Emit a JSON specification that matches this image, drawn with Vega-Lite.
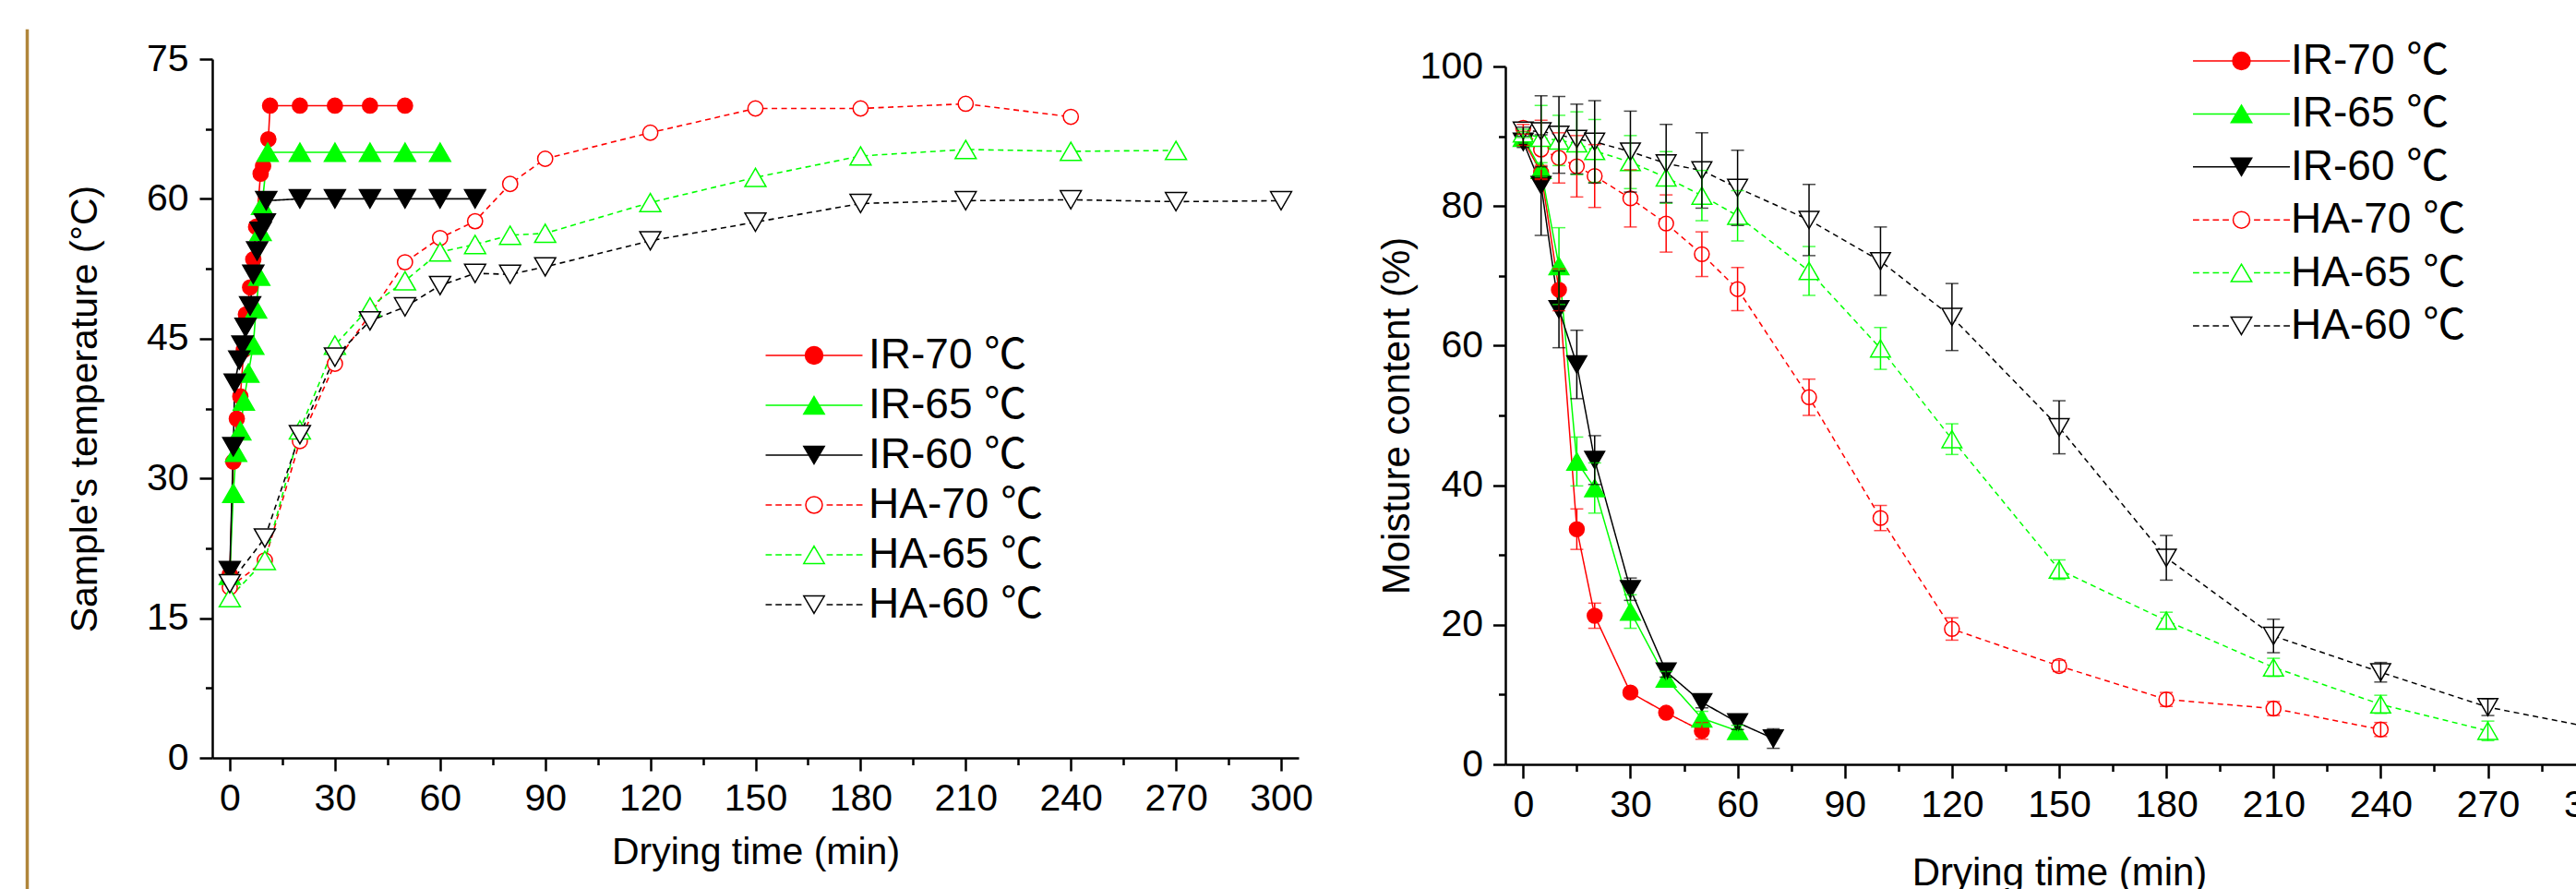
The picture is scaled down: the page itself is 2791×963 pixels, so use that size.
{
  "$schema": "https://vega.github.io/schema/vega-lite/v6.json",
  "background": "white",
  "padding": {"left": 27, "top": 31, "right": 0, "bottom": 0},
  "spacing": 39,
  "config": {"font": "Liberation Sans", "view": {"stroke": null}},
  "datasets": {
    "temp": [
      {"s": "IR-70 ℃", "t": 0, "v": 19.7}, {"s": "IR-70 ℃", "t": 1, "v": 31.8}, {"s": "IR-70 ℃", "t": 2, "v": 36.4}, {"s": "IR-70 ℃", "t": 3, "v": 38.8}, {"s": "IR-70 ℃", "t": 4, "v": 43.8}, {"s": "IR-70 ℃", "t": 4.6, "v": 47.6}, {"s": "IR-70 ℃", "t": 5.8, "v": 50.5}, {"s": "IR-70 ℃", "t": 6.7, "v": 53.5}, {"s": "IR-70 ℃", "t": 7.5, "v": 57.0}, {"s": "IR-70 ℃", "t": 8.8, "v": 62.7}, {"s": "IR-70 ℃", "t": 9.5, "v": 63.5}, {"s": "IR-70 ℃", "t": 11, "v": 66.4}, {"s": "IR-70 ℃", "t": 11.5, "v": 70}, {"s": "IR-70 ℃", "t": 20, "v": 70}, {"s": "IR-70 ℃", "t": 30, "v": 70}, {"s": "IR-70 ℃", "t": 40, "v": 70}, {"s": "IR-70 ℃", "t": 50, "v": 70},
      {"s": "IR-65 ℃", "t": 0, "v": 19.6}, {"s": "IR-65 ℃", "t": 1, "v": 28.4}, {"s": "IR-65 ℃", "t": 1.8, "v": 32.8}, {"s": "IR-65 ℃", "t": 3, "v": 35.1}, {"s": "IR-65 ℃", "t": 4, "v": 38.3}, {"s": "IR-65 ℃", "t": 5.3, "v": 41.3}, {"s": "IR-65 ℃", "t": 6.7, "v": 44.3}, {"s": "IR-65 ℃", "t": 7.5, "v": 48.2}, {"s": "IR-65 ℃", "t": 8.4, "v": 51.7}, {"s": "IR-65 ℃", "t": 8.8, "v": 56.5}, {"s": "IR-65 ℃", "t": 9.2, "v": 59.3}, {"s": "IR-65 ℃", "t": 10.8, "v": 65}, {"s": "IR-65 ℃", "t": 20, "v": 65}, {"s": "IR-65 ℃", "t": 30, "v": 65}, {"s": "IR-65 ℃", "t": 40, "v": 65}, {"s": "IR-65 ℃", "t": 50, "v": 65}, {"s": "IR-65 ℃", "t": 60, "v": 65},
      {"s": "IR-60 ℃", "t": 0, "v": 20.1}, {"s": "IR-60 ℃", "t": 1, "v": 33.4}, {"s": "IR-60 ℃", "t": 1.4, "v": 40.2}, {"s": "IR-60 ℃", "t": 2.7, "v": 42.7}, {"s": "IR-60 ℃", "t": 3.6, "v": 44.3}, {"s": "IR-60 ℃", "t": 4.5, "v": 46.2}, {"s": "IR-60 ℃", "t": 5.8, "v": 48.5}, {"s": "IR-60 ℃", "t": 6.7, "v": 51.9}, {"s": "IR-60 ℃", "t": 7.8, "v": 54.4}, {"s": "IR-60 ℃", "t": 8.8, "v": 56.5}, {"s": "IR-60 ℃", "t": 10, "v": 57.4}, {"s": "IR-60 ℃", "t": 10.4, "v": 59.8}, {"s": "IR-60 ℃", "t": 20, "v": 60}, {"s": "IR-60 ℃", "t": 30, "v": 60}, {"s": "IR-60 ℃", "t": 40, "v": 60}, {"s": "IR-60 ℃", "t": 50, "v": 60}, {"s": "IR-60 ℃", "t": 60, "v": 60}, {"s": "IR-60 ℃", "t": 70, "v": 60},
      {"s": "HA-70 ℃", "t": 0, "v": 18.3}, {"s": "HA-70 ℃", "t": 10, "v": 21.2}, {"s": "HA-70 ℃", "t": 20, "v": 34.0}, {"s": "HA-70 ℃", "t": 30, "v": 42.3}, {"s": "HA-70 ℃", "t": 40, "v": 47.6}, {"s": "HA-70 ℃", "t": 50, "v": 53.2}, {"s": "HA-70 ℃", "t": 60, "v": 55.8}, {"s": "HA-70 ℃", "t": 70, "v": 57.6}, {"s": "HA-70 ℃", "t": 80, "v": 61.6}, {"s": "HA-70 ℃", "t": 90, "v": 64.3}, {"s": "HA-70 ℃", "t": 120, "v": 67.1}, {"s": "HA-70 ℃", "t": 150, "v": 69.7}, {"s": "HA-70 ℃", "t": 180, "v": 69.7}, {"s": "HA-70 ℃", "t": 210, "v": 70.2}, {"s": "HA-70 ℃", "t": 240, "v": 68.8},
      {"s": "HA-65 ℃", "t": 0, "v": 17.2}, {"s": "HA-65 ℃", "t": 10, "v": 21.2}, {"s": "HA-65 ℃", "t": 20, "v": 35.2}, {"s": "HA-65 ℃", "t": 30, "v": 44.3}, {"s": "HA-65 ℃", "t": 40, "v": 48.4}, {"s": "HA-65 ℃", "t": 50, "v": 51.2}, {"s": "HA-65 ℃", "t": 60, "v": 54.3}, {"s": "HA-65 ℃", "t": 70, "v": 55.1}, {"s": "HA-65 ℃", "t": 80, "v": 56.1}, {"s": "HA-65 ℃", "t": 90, "v": 56.3}, {"s": "HA-65 ℃", "t": 120, "v": 59.6}, {"s": "HA-65 ℃", "t": 150, "v": 62.3}, {"s": "HA-65 ℃", "t": 180, "v": 64.6}, {"s": "HA-65 ℃", "t": 210, "v": 65.3}, {"s": "HA-65 ℃", "t": 240, "v": 65.1}, {"s": "HA-65 ℃", "t": 270, "v": 65.2},
      {"s": "HA-60 ℃", "t": 0, "v": 18.7}, {"s": "HA-60 ℃", "t": 10, "v": 23.6}, {"s": "HA-60 ℃", "t": 20, "v": 34.7}, {"s": "HA-60 ℃", "t": 30, "v": 43.0}, {"s": "HA-60 ℃", "t": 40, "v": 46.9}, {"s": "HA-60 ℃", "t": 50, "v": 48.4}, {"s": "HA-60 ℃", "t": 60, "v": 50.7}, {"s": "HA-60 ℃", "t": 70, "v": 52.0}, {"s": "HA-60 ℃", "t": 80, "v": 51.9}, {"s": "HA-60 ℃", "t": 90, "v": 52.7}, {"s": "HA-60 ℃", "t": 120, "v": 55.5}, {"s": "HA-60 ℃", "t": 150, "v": 57.5}, {"s": "HA-60 ℃", "t": 180, "v": 59.5}, {"s": "HA-60 ℃", "t": 210, "v": 59.8}, {"s": "HA-60 ℃", "t": 240, "v": 59.9}, {"s": "HA-60 ℃", "t": 270, "v": 59.7}, {"s": "HA-60 ℃", "t": 300, "v": 59.8}
    ],
    "moist": [
      {"s": "IR-70 ℃", "t": 0, "v": 89.5, "e": 0.8}, {"s": "IR-70 ℃", "t": 5, "v": 84.8, "e": 1.0}, {"s": "IR-70 ℃", "t": 10, "v": 68.0, "e": 3.0}, {"s": "IR-70 ℃", "t": 15, "v": 33.7, "e": 2.9}, {"s": "IR-70 ℃", "t": 20, "v": 21.3, "e": 1.8}, {"s": "IR-70 ℃", "t": 30, "v": 10.3, "e": 0.5}, {"s": "IR-70 ℃", "t": 40, "v": 7.4, "e": 0.5}, {"s": "IR-70 ℃", "t": 50, "v": 4.8, "e": 1.2},
      {"s": "IR-65 ℃", "t": 0, "v": 89.8, "e": 0.8}, {"s": "IR-65 ℃", "t": 5, "v": 85.2, "e": 1.0}, {"s": "IR-65 ℃", "t": 10, "v": 71.4, "e": 5.5}, {"s": "IR-65 ℃", "t": 15, "v": 43.4, "e": 3.5}, {"s": "IR-65 ℃", "t": 20, "v": 39.6, "e": 3.6}, {"s": "IR-65 ℃", "t": 30, "v": 21.9, "e": 2.4}, {"s": "IR-65 ℃", "t": 40, "v": 12.3, "e": 1.0}, {"s": "IR-65 ℃", "t": 50, "v": 6.6, "e": 1.0}, {"s": "IR-65 ℃", "t": 60, "v": 4.8, "e": 0.8},
      {"s": "IR-60 ℃", "t": 0, "v": 89.2, "e": 0.8}, {"s": "IR-60 ℃", "t": 5, "v": 83.0, "e": 7.2}, {"s": "IR-60 ℃", "t": 10, "v": 65.2, "e": 5.5}, {"s": "IR-60 ℃", "t": 15, "v": 57.3, "e": 4.9}, {"s": "IR-60 ℃", "t": 20, "v": 43.6, "e": 3.5}, {"s": "IR-60 ℃", "t": 30, "v": 25.1, "e": 1.6}, {"s": "IR-60 ℃", "t": 40, "v": 13.3, "e": 0.8}, {"s": "IR-60 ℃", "t": 50, "v": 8.9, "e": 0.8}, {"s": "IR-60 ℃", "t": 60, "v": 6.0, "e": 1.0}, {"s": "IR-60 ℃", "t": 70, "v": 3.7, "e": 1.4},
      {"s": "HA-70 ℃", "t": 0, "v": 91.2, "e": 0.5}, {"s": "HA-70 ℃", "t": 5, "v": 88.1, "e": 4.2}, {"s": "HA-70 ℃", "t": 10, "v": 86.9, "e": 3.6}, {"s": "HA-70 ℃", "t": 15, "v": 85.7, "e": 4.4}, {"s": "HA-70 ℃", "t": 20, "v": 84.3, "e": 4.5}, {"s": "HA-70 ℃", "t": 30, "v": 81.1, "e": 4.1}, {"s": "HA-70 ℃", "t": 40, "v": 77.5, "e": 4.1}, {"s": "HA-70 ℃", "t": 50, "v": 73.1, "e": 3.2}, {"s": "HA-70 ℃", "t": 60, "v": 68.1, "e": 3.1}, {"s": "HA-70 ℃", "t": 80, "v": 52.6, "e": 2.6}, {"s": "HA-70 ℃", "t": 100, "v": 35.3, "e": 1.8}, {"s": "HA-70 ℃", "t": 120, "v": 19.4, "e": 1.6}, {"s": "HA-70 ℃", "t": 150, "v": 14.1, "e": 0.8}, {"s": "HA-70 ℃", "t": 180, "v": 9.3, "e": 1.0}, {"s": "HA-70 ℃", "t": 210, "v": 8.0, "e": 1.0}, {"s": "HA-70 ℃", "t": 240, "v": 5.0, "e": 1.0},
      {"s": "HA-65 ℃", "t": 0, "v": 90.4, "e": 0.6}, {"s": "HA-65 ℃", "t": 5, "v": 89.8, "e": 4.6}, {"s": "HA-65 ℃", "t": 10, "v": 89.4, "e": 3.6}, {"s": "HA-65 ℃", "t": 15, "v": 89.0, "e": 4.5}, {"s": "HA-65 ℃", "t": 20, "v": 87.9, "e": 4.5}, {"s": "HA-65 ℃", "t": 30, "v": 86.3, "e": 3.8}, {"s": "HA-65 ℃", "t": 40, "v": 84.1, "e": 3.7}, {"s": "HA-65 ℃", "t": 50, "v": 81.5, "e": 3.6}, {"s": "HA-65 ℃", "t": 60, "v": 78.6, "e": 3.6}, {"s": "HA-65 ℃", "t": 80, "v": 70.7, "e": 3.5}, {"s": "HA-65 ℃", "t": 100, "v": 59.6, "e": 3.0}, {"s": "HA-65 ℃", "t": 120, "v": 46.6, "e": 2.2}, {"s": "HA-65 ℃", "t": 150, "v": 27.9, "e": 1.4}, {"s": "HA-65 ℃", "t": 180, "v": 20.6, "e": 1.2}, {"s": "HA-65 ℃", "t": 210, "v": 13.9, "e": 1.3}, {"s": "HA-65 ℃", "t": 240, "v": 8.6, "e": 1.3}, {"s": "HA-65 ℃", "t": 270, "v": 4.8, "e": 1.4},
      {"s": "HA-60 ℃", "t": 0, "v": 90.8, "e": 0.5}, {"s": "HA-60 ℃", "t": 5, "v": 90.7, "e": 5.1}, {"s": "HA-60 ℃", "t": 10, "v": 90.2, "e": 5.5}, {"s": "HA-60 ℃", "t": 15, "v": 89.6, "e": 5.0}, {"s": "HA-60 ℃", "t": 20, "v": 89.2, "e": 5.9}, {"s": "HA-60 ℃", "t": 30, "v": 87.8, "e": 5.8}, {"s": "HA-60 ℃", "t": 40, "v": 86.1, "e": 5.6}, {"s": "HA-60 ℃", "t": 50, "v": 85.1, "e": 5.4}, {"s": "HA-60 ℃", "t": 60, "v": 82.6, "e": 5.4}, {"s": "HA-60 ℃", "t": 80, "v": 78.0, "e": 5.1}, {"s": "HA-60 ℃", "t": 100, "v": 72.1, "e": 4.9}, {"s": "HA-60 ℃", "t": 120, "v": 64.1, "e": 4.8}, {"s": "HA-60 ℃", "t": 150, "v": 48.3, "e": 3.8}, {"s": "HA-60 ℃", "t": 180, "v": 29.6, "e": 3.2}, {"s": "HA-60 ℃", "t": 210, "v": 18.4, "e": 2.4}, {"s": "HA-60 ℃", "t": 240, "v": 13.2, "e": 1.4}, {"s": "HA-60 ℃", "t": 270, "v": 8.2, "e": 1.2}, {"s": "HA-60 ℃", "t": 300, "v": 5.2, "e": 0.8}
    ]
  },
  "hconcat": [
    {
      "width": 1,
      "height": 932,
      "data": {"values": []},
      "mark": {"type": "point"},
      "view": {"stroke": "#B0853A", "strokeWidth": 2.5, "fill": null}
    },
    {
      "spacing": 69,
      "hconcat": [
        {"spacing": 0, "vconcat": [
        {"width": 1, "height": 10, "data": {"values": []}, "mark": {"type": "point"}},
        {
          "width": 1177,
          "height": 757,
          "data": {"name": "temp"},
          "resolve": {
            "scale": {"shape": "independent", "fill": "independent", "stroke": "independent", "strokeDash": "independent"},
            "axis": {"x": "independent", "y": "independent"}
          },
          "layer": [
            {
              "mark": {"type": "line", "strokeWidth": 1.6},
              "encoding": {
                "x": {"field": "t", "type": "quantitative", "scale": {"domain": [-5, 305], "nice": false, "zero": false},
                  "axis": {"orient": "bottom", "values": [0, 30, 60, 90, 120, 150, 180, 210, 240, 270, 300], "title": "Drying time (min)", "grid": false, "domainColor": "#000", "domainWidth": 2.5, "tickColor": "#000", "tickWidth": 2.5, "tickSize": 14, "labelFont": "Liberation Sans", "labelFontSize": 41, "labelColor": "#000", "labelPadding": 10.5, "labelFlush": false, "labelOverlap": false, "titleFont": "Liberation Sans", "titleFontSize": 41, "titleFontWeight": "normal", "titleColor": "#000", "titlePadding": 18}},
                "y": {"field": "v", "type": "quantitative", "scale": {"domain": [0, 75], "nice": false, "zero": false},
                  "axis": {"orient": "left", "values": [0, 15, 30, 45, 60, 75], "title": "Sample's temperature (°C)", "grid": false, "domainColor": "#000", "domainWidth": 2.5, "tickColor": "#000", "tickWidth": 2.5, "tickSize": 14, "labelFont": "Liberation Sans", "labelFontSize": 41, "labelColor": "#000", "labelPadding": 12, "labelFlush": false, "labelOverlap": false, "titleFont": "Liberation Sans", "titleFontSize": 41, "titleFontWeight": "normal", "titleColor": "#000", "titlePadding": 45}},
                "stroke": {"field": "s", "type": "nominal", "legend": null, "scale": {"domain": ["IR-70 ℃", "IR-65 ℃", "IR-60 ℃", "HA-70 ℃", "HA-65 ℃", "HA-60 ℃"], "range": ["#ff0000", "#00ff00", "#000000", "#ff0000", "#00ff00", "#000000"]}},
                "strokeDash": {"field": "s", "type": "nominal", "legend": null, "scale": {"domain": ["IR-70 ℃", "IR-65 ℃", "IR-60 ℃", "HA-70 ℃", "HA-65 ℃", "HA-60 ℃"], "range": [[1, 0], [1, 0], [1, 0], [6, 4.5], [6, 4.5], [6, 4.5]]}}
              }
            },
            {
              "transform": [{"filter": {"field": "s", "oneOf": ["IR-70 ℃", "HA-70 ℃"]}}],
              "mark": {"type": "point", "shape": "circle", "size": 265, "strokeWidth": 1.5, "opacity": 1},
              "encoding": {
                "x": {"field": "t", "type": "quantitative", "scale": {"domain": [-5, 305], "nice": false, "zero": false}, "axis": null},
                "y": {"field": "v", "type": "quantitative", "scale": {"domain": [0, 75], "nice": false, "zero": false}, "axis": null},
                "fill": {"field": "s", "type": "nominal", "legend": null, "scale": {"domain": ["IR-70 ℃", "IR-65 ℃", "IR-60 ℃", "HA-70 ℃", "HA-65 ℃", "HA-60 ℃"], "range": ["#ff0000", "#00ff00", "#000000", "#ffffff", "#ffffff", "#ffffff"]}},
                "stroke": {"field": "s", "type": "nominal", "legend": null, "scale": {"domain": ["IR-70 ℃", "IR-65 ℃", "IR-60 ℃", "HA-70 ℃", "HA-65 ℃", "HA-60 ℃"], "range": ["#ff0000", "#00ff00", "#000000", "#ff0000", "#00ff00", "#000000"]}}
              }
            },
            {
              "transform": [{"filter": {"field": "s", "oneOf": ["IR-65 ℃", "IR-60 ℃", "HA-65 ℃", "HA-60 ℃"]}}],
              "mark": {"type": "point", "size": 520, "strokeWidth": 1.5, "opacity": 1},
              "encoding": {
                "x": {"field": "t", "type": "quantitative", "scale": {"domain": [-5, 305], "nice": false, "zero": false}, "axis": null},
                "y": {"field": "v", "type": "quantitative", "scale": {"domain": [0, 75], "nice": false, "zero": false}, "axis": null},
                "shape": {"field": "s", "type": "nominal", "legend": null, "scale": {"domain": ["IR-65 ℃", "IR-60 ℃", "HA-65 ℃", "HA-60 ℃"], "range": ["triangle-up", "triangle-down", "triangle-up", "triangle-down"]}},
                "fill": {"field": "s", "type": "nominal", "legend": null, "scale": {"domain": ["IR-70 ℃", "IR-65 ℃", "IR-60 ℃", "HA-70 ℃", "HA-65 ℃", "HA-60 ℃"], "range": ["#ff0000", "#00ff00", "#000000", "#ffffff", "#ffffff", "#ffffff"]}},
                "stroke": {"field": "s", "type": "nominal", "legend": null, "scale": {"domain": ["IR-70 ℃", "IR-65 ℃", "IR-60 ℃", "HA-70 ℃", "HA-65 ℃", "HA-60 ℃"], "range": ["#ff0000", "#00ff00", "#000000", "#ff0000", "#00ff00", "#000000"]}}
              }
            },
            {
              "transform": [{"filter": "false"}],
              "mark": {"type": "point", "strokeWidth": 1.5},
              "encoding": {
                "x": {"field": "t", "type": "quantitative", "scale": {"domain": [-5, 305], "nice": false, "zero": false},
                  "axis": {"orient": "bottom", "values": [15, 45, 75, 105, 135, 165, 195, 225, 255, 285], "title": null, "labels": false, "domain": false, "grid": false, "tickColor": "#000", "tickWidth": 2.5, "tickSize": 7.5}},
                "y": {"field": "v", "type": "quantitative", "scale": {"domain": [0, 75], "nice": false, "zero": false},
                  "axis": {"orient": "left", "values": [7.5, 22.5, 37.5, 52.5, 67.5], "title": null, "labels": false, "domain": false, "grid": false, "tickColor": "#000", "tickWidth": 2.5, "tickSize": 7.5}},
                "shape": {"field": "s", "type": "nominal",
                  "scale": {"domain": ["IR-70 ℃", "IR-65 ℃", "IR-60 ℃", "HA-70 ℃", "HA-65 ℃", "HA-60 ℃"], "range": [
                    "M-5.83,0H5.83M-1.05,0A1.05,1.05 0 1 0 1.05,0A1.05,1.05 0 1 0 -1.05,0Z",
                    "M-5.83,0H5.83M0,-1.05L1.24,1.05L-1.24,1.05Z",
                    "M-5.83,0H5.83M0,1.05L1.24,-1.05L-1.24,-1.05Z",
                    "M-5.83,0H-5.08M-4.64,0H-3.89M-3.45,0H-2.7M-2.26,0H-1.51M1.51,0H2.26M2.7,0H3.45M3.89,0H4.64M5.08,0H5.83M-1,0A1,1 0 1 0 1,0A1,1 0 1 0 -1,0Z",
                    "M-5.83,0H-5.08M-4.64,0H-3.89M-3.45,0H-2.7M-2.26,0H-1.51M1.51,0H2.26M2.7,0H3.45M3.89,0H4.64M5.08,0H5.83M0,-1.05L1.24,1.05L-1.24,1.05Z",
                    "M-5.83,0H-5.08M-4.64,0H-3.89M-3.45,0H-2.7M-2.26,0H-1.51M1.51,0H2.26M2.7,0H3.45M3.89,0H4.64M5.08,0H5.83M0,1.05L1.24,-1.05L-1.24,-1.05Z"]},
                  "legend": {"orient": "none", "legendX": 629, "legendY": 298, "title": null, "padding": 0, "labelFont": "Liberation Sans, Noto Sans CJK SC", "labelFontSize": 46, "labelColor": "#000", "labelOffset": 36, "labelLimit": 600, "rowPadding": 8, "symbolSize": 324, "symbolStrokeWidth": 1.5, "symbolOpacity": 1}},
                "fill": {"field": "s", "type": "nominal",
                  "scale": {"domain": ["IR-70 ℃", "IR-65 ℃", "IR-60 ℃", "HA-70 ℃", "HA-65 ℃", "HA-60 ℃"], "range": ["#ff0000", "#00ff00", "#000000", "#ffffff", "#ffffff", "#ffffff"]},
                  "legend": {"orient": "none", "legendX": 629, "legendY": 298, "title": null, "padding": 0, "labelFont": "Liberation Sans, Noto Sans CJK SC", "labelFontSize": 46, "labelColor": "#000", "labelOffset": 36, "labelLimit": 600, "rowPadding": 8, "symbolSize": 324, "symbolStrokeWidth": 1.5, "symbolOpacity": 1}},
                "stroke": {"field": "s", "type": "nominal",
                  "scale": {"domain": ["IR-70 ℃", "IR-65 ℃", "IR-60 ℃", "HA-70 ℃", "HA-65 ℃", "HA-60 ℃"], "range": ["#ff0000", "#00ff00", "#000000", "#ff0000", "#00ff00", "#000000"]},
                  "legend": {"orient": "none", "legendX": 629, "legendY": 298, "title": null, "padding": 0, "labelFont": "Liberation Sans, Noto Sans CJK SC", "labelFontSize": 46, "labelColor": "#000", "labelOffset": 36, "labelLimit": 600, "rowPadding": 8, "symbolSize": 324, "symbolStrokeWidth": 1.5, "symbolOpacity": 1}}
              }
            }
          ]
        }
        ]},
        {"spacing": 0, "vconcat": [
        {"width": 1, "height": 1, "data": {"values": []}, "mark": {"type": "point"}},
        {
          "width": 1200,
          "height": 756,
          "data": {"name": "moist"},
          "resolve": {
            "scale": {"shape": "independent", "fill": "independent", "stroke": "independent", "strokeDash": "independent", "color": "independent"},
            "axis": {"x": "independent", "y": "independent"}
          },
          "layer": [
            {
              "mark": {"type": "line", "strokeWidth": 1.5},
              "encoding": {
                "x": {"field": "t", "type": "quantitative", "scale": {"domain": [-5, 305], "nice": false, "zero": false},
                  "axis": {"orient": "bottom", "values": [0, 30, 60, 90, 120, 150, 180, 210, 240, 270, 300], "title": "Drying time (min)", "grid": false, "domainColor": "#000", "domainWidth": 2.5, "tickColor": "#000", "tickWidth": 2.5, "tickSize": 15, "labelFont": "Liberation Sans", "labelFontSize": 41, "labelColor": "#000", "labelPadding": 9, "labelFlush": false, "labelOverlap": false, "titleFont": "Liberation Sans", "titleFontSize": 42, "titleFontWeight": "normal", "titleColor": "#000", "titlePadding": 33}},
                "y": {"field": "v", "type": "quantitative", "scale": {"domain": [0, 100], "nice": false, "zero": false},
                  "axis": {"orient": "left", "values": [0, 20, 40, 60, 80, 100], "title": "Moisture content (%)", "grid": false, "domainColor": "#000", "domainWidth": 2.5, "tickColor": "#000", "tickWidth": 2.5, "tickSize": 13.5, "labelFont": "Liberation Sans", "labelFontSize": 41, "labelColor": "#000", "labelPadding": 11, "labelFlush": false, "labelOverlap": false, "titleFont": "Liberation Sans", "titleFontSize": 42, "titleFontWeight": "normal", "titleColor": "#000", "titlePadding": 3}},
                "stroke": {"field": "s", "type": "nominal", "legend": null, "scale": {"domain": ["IR-70 ℃", "IR-65 ℃", "IR-60 ℃", "HA-70 ℃", "HA-65 ℃", "HA-60 ℃"], "range": ["#ff0000", "#00ff00", "#000000", "#ff0000", "#00ff00", "#000000"]}},
                "strokeDash": {"field": "s", "type": "nominal", "legend": null, "scale": {"domain": ["IR-70 ℃", "IR-65 ℃", "IR-60 ℃", "HA-70 ℃", "HA-65 ℃", "HA-60 ℃"], "range": [[1, 0], [1, 0], [1, 0], [6, 4.5], [6, 4.5], [6, 4.5]]}}
              }
            },
            {
              "transform": [{"filter": {"field": "s", "oneOf": ["IR-70 ℃", "HA-70 ℃"]}}],
              "mark": {"type": "point", "shape": "circle", "size": 254, "strokeWidth": 1.5, "opacity": 1},
              "encoding": {
                "x": {"field": "t", "type": "quantitative", "scale": {"domain": [-5, 305], "nice": false, "zero": false}, "axis": null},
                "y": {"field": "v", "type": "quantitative", "scale": {"domain": [0, 100], "nice": false, "zero": false}, "axis": null},
                "fill": {"field": "s", "type": "nominal", "legend": null, "scale": {"domain": ["IR-70 ℃", "IR-65 ℃", "IR-60 ℃", "HA-70 ℃", "HA-65 ℃", "HA-60 ℃"], "range": ["#ff0000", "#00ff00", "#000000", "#ffffff", "#ffffff", "#ffffff"]}},
                "stroke": {"field": "s", "type": "nominal", "legend": null, "scale": {"domain": ["IR-70 ℃", "IR-65 ℃", "IR-60 ℃", "HA-70 ℃", "HA-65 ℃", "HA-60 ℃"], "range": ["#ff0000", "#00ff00", "#000000", "#ff0000", "#00ff00", "#000000"]}}
              }
            },
            {
              "transform": [{"filter": {"field": "s", "oneOf": ["IR-65 ℃", "IR-60 ℃", "HA-65 ℃", "HA-60 ℃"]}}],
              "mark": {"type": "point", "size": 460, "strokeWidth": 1.5, "opacity": 1},
              "encoding": {
                "x": {"field": "t", "type": "quantitative", "scale": {"domain": [-5, 305], "nice": false, "zero": false}, "axis": null},
                "y": {"field": "v", "type": "quantitative", "scale": {"domain": [0, 100], "nice": false, "zero": false}, "axis": null},
                "shape": {"field": "s", "type": "nominal", "legend": null, "scale": {"domain": ["IR-65 ℃", "IR-60 ℃", "HA-65 ℃", "HA-60 ℃"], "range": ["triangle-up", "triangle-down", "triangle-up", "triangle-down"]}},
                "fill": {"field": "s", "type": "nominal", "legend": null, "scale": {"domain": ["IR-70 ℃", "IR-65 ℃", "IR-60 ℃", "HA-70 ℃", "HA-65 ℃", "HA-60 ℃"], "range": ["#ff0000", "#00ff00", "#000000", "#ffffff", "#ffffff", "#ffffff"]}},
                "stroke": {"field": "s", "type": "nominal", "legend": null, "scale": {"domain": ["IR-70 ℃", "IR-65 ℃", "IR-60 ℃", "HA-70 ℃", "HA-65 ℃", "HA-60 ℃"], "range": ["#ff0000", "#00ff00", "#000000", "#ff0000", "#00ff00", "#000000"]}}
              }
            },
            {
              "mark": {"type": "errorbar", "ticks": {"size": 14}, "thickness": 1.5},
              "encoding": {
                "x": {"field": "t", "type": "quantitative", "scale": {"domain": [-5, 305], "nice": false, "zero": false}, "axis": null},
                "y": {"field": "v", "type": "quantitative", "scale": {"domain": [0, 100], "nice": false, "zero": false}, "axis": null},
                "yError": {"field": "e"},
                "color": {"field": "s", "type": "nominal", "legend": null, "scale": {"domain": ["IR-70 ℃", "IR-65 ℃", "IR-60 ℃", "HA-70 ℃", "HA-65 ℃", "HA-60 ℃"], "range": ["#ff0000", "#00ff00", "#000000", "#ff0000", "#00ff00", "#000000"]}}
              }
            },
            {
              "transform": [{"filter": "false"}],
              "mark": {"type": "point", "strokeWidth": 1.5},
              "encoding": {
                "x": {"field": "t", "type": "quantitative", "scale": {"domain": [-5, 305], "nice": false, "zero": false},
                  "axis": {"orient": "bottom", "values": [15, 45, 75, 105, 135, 165, 195, 225, 255, 285], "title": null, "labels": false, "domain": false, "grid": false, "tickColor": "#000", "tickWidth": 2.5, "tickSize": 7.5}},
                "y": {"field": "v", "type": "quantitative", "scale": {"domain": [0, 100], "nice": false, "zero": false},
                  "axis": {"orient": "left", "values": [10, 30, 50, 70, 90], "title": null, "labels": false, "domain": false, "grid": false, "tickColor": "#000", "tickWidth": 2.5, "tickSize": 7.5}},
                "shape": {"field": "s", "type": "nominal",
                  "scale": {"domain": ["IR-70 ℃", "IR-65 ℃", "IR-60 ℃", "HA-70 ℃", "HA-65 ℃", "HA-60 ℃"], "range": [
                    "M-5.83,0H5.83M-1.05,0A1.05,1.05 0 1 0 1.05,0A1.05,1.05 0 1 0 -1.05,0Z",
                    "M-5.83,0H5.83M0,-1.05L1.24,1.05L-1.24,1.05Z",
                    "M-5.83,0H5.83M0,1.05L1.24,-1.05L-1.24,-1.05Z",
                    "M-5.83,0H-5.08M-4.64,0H-3.89M-3.45,0H-2.7M-2.26,0H-1.51M1.51,0H2.26M2.7,0H3.45M3.89,0H4.64M5.08,0H5.83M-1,0A1,1 0 1 0 1,0A1,1 0 1 0 -1,0Z",
                    "M-5.83,0H-5.08M-4.64,0H-3.89M-3.45,0H-2.7M-2.26,0H-1.51M1.51,0H2.26M2.7,0H3.45M3.89,0H4.64M5.08,0H5.83M0,-1.05L1.24,1.05L-1.24,1.05Z",
                    "M-5.83,0H-5.08M-4.64,0H-3.89M-3.45,0H-2.7M-2.26,0H-1.51M1.51,0H2.26M2.7,0H3.45M3.89,0H4.64M5.08,0H5.83M0,1.05L1.24,-1.05L-1.24,-1.05Z"]},
                  "legend": {"orient": "none", "legendX": 765.5, "legendY": -38, "title": null, "padding": 9, "labelFont": "Liberation Sans, Noto Sans CJK SC", "labelFontSize": 46, "labelColor": "#000", "labelOffset": 30.5, "labelLimit": 600, "rowPadding": 11.4, "symbolSize": 324, "symbolStrokeWidth": 1.5, "symbolOpacity": 1}},
                "fill": {"field": "s", "type": "nominal",
                  "scale": {"domain": ["IR-70 ℃", "IR-65 ℃", "IR-60 ℃", "HA-70 ℃", "HA-65 ℃", "HA-60 ℃"], "range": ["#ff0000", "#00ff00", "#000000", "#ffffff", "#ffffff", "#ffffff"]},
                  "legend": {"orient": "none", "legendX": 765.5, "legendY": -38, "title": null, "padding": 9, "labelFont": "Liberation Sans, Noto Sans CJK SC", "labelFontSize": 46, "labelColor": "#000", "labelOffset": 30.5, "labelLimit": 600, "rowPadding": 11.4, "symbolSize": 324, "symbolStrokeWidth": 1.5, "symbolOpacity": 1}},
                "stroke": {"field": "s", "type": "nominal",
                  "scale": {"domain": ["IR-70 ℃", "IR-65 ℃", "IR-60 ℃", "HA-70 ℃", "HA-65 ℃", "HA-60 ℃"], "range": ["#ff0000", "#00ff00", "#000000", "#ff0000", "#00ff00", "#000000"]},
                  "legend": {"orient": "none", "legendX": 765.5, "legendY": -38, "title": null, "padding": 9, "labelFont": "Liberation Sans, Noto Sans CJK SC", "labelFontSize": 46, "labelColor": "#000", "labelOffset": 30.5, "labelLimit": 600, "rowPadding": 11.4, "symbolSize": 324, "symbolStrokeWidth": 1.5, "symbolOpacity": 1}}
              }
            }
          ]
        }
        ]}
      ]
    }
  ]
}
